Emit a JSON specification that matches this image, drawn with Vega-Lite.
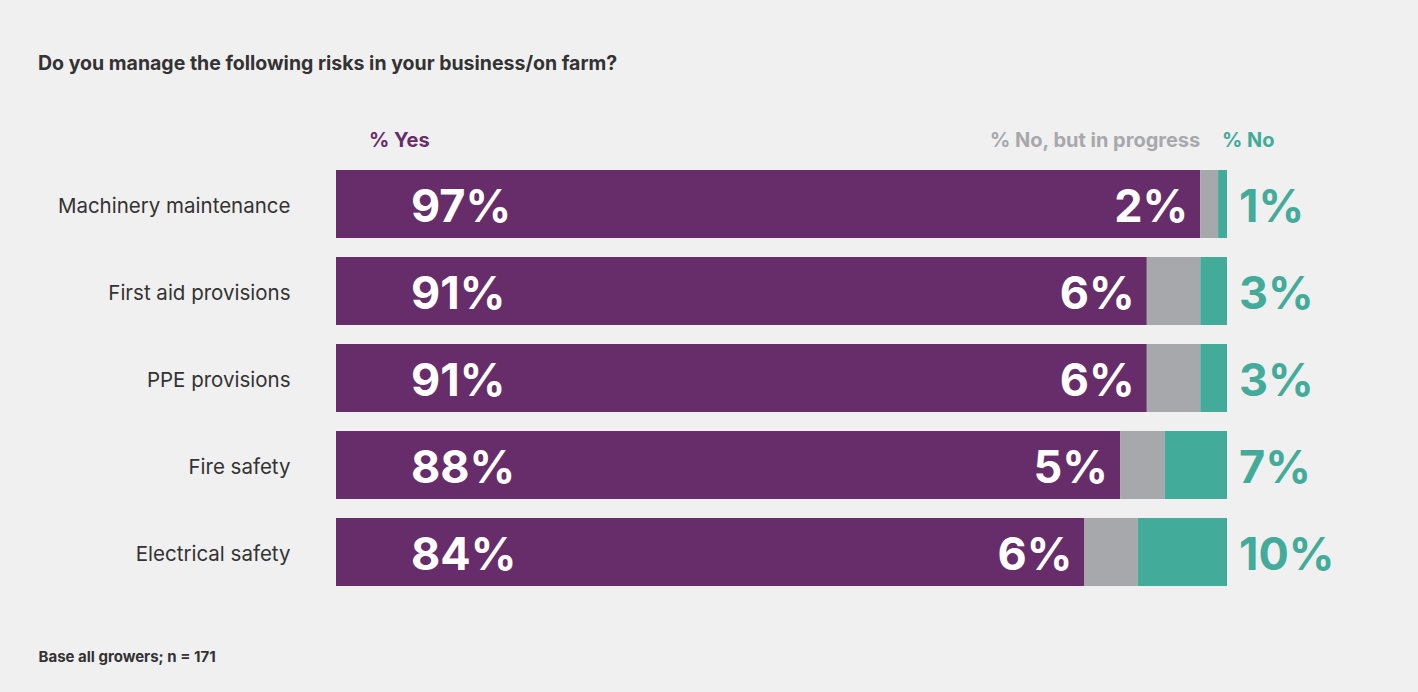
{
  "$schema": "https://vega.github.io/schema/vega-lite/v6.json",
  "width": 891,
  "height": 435,
  "autosize": {"type": "none"},
  "padding": {"left": 336, "top": 160.5, "right": 191, "bottom": 96.5},
  "background": "#f0f0f0",
  "config": {"view": {"stroke": null}, "font": "Inter"},
  "title": {
    "text": "Do you manage the following risks in your business/on farm?",
    "anchor": "start",
    "frame": "group",
    "dx": -298,
    "offset": 57,
    "fontSize": 19.5,
    "fontWeight": "bold",
    "color": "#333333",
    "font": "Inter"
  },
  "data": {
    "values": [
      {"item": "Machinery maintenance", "yes": 97, "progress": 2, "no": 1},
      {"item": "First aid provisions", "yes": 91, "progress": 6, "no": 3},
      {"item": "PPE provisions", "yes": 91, "progress": 6, "no": 3},
      {"item": "Fire safety", "yes": 88, "progress": 5, "no": 7},
      {"item": "Electrical safety", "yes": 84, "progress": 6, "no": 10}
    ]
  },
  "layer": [
    {
      "transform": [{"fold": ["yes", "progress", "no"], "as": ["key", "value"]}],
      "mark": {"type": "bar"},
      "encoding": {
        "y": {
          "field": "item",
          "type": "nominal",
          "sort": null,
          "scale": {"paddingInner": 0.218, "paddingOuter": 0.109},
          "axis": {
            "title": null,
            "domain": false,
            "ticks": false,
            "labelPadding": 46,
            "labelOffset": 3,
            "labelFontSize": 20.5,
            "labelColor": "#333333",
            "labelFont": "Inter",
            "labelLimit": 400
          }
        },
        "x": {
          "field": "value",
          "type": "quantitative",
          "stack": "zero",
          "scale": {"domain": [0, 100], "nice": false},
          "axis": {
            "labels": false,
            "ticks": false,
            "domain": false,
            "grid": false,
            "title": "Base all growers; n = 171",
            "titleX": -298,
            "titleY": 66,
            "titleAlign": "left",
            "titleAnchor": "start",
            "titleBaseline": "alphabetic",
            "titleFontSize": 15,
            "titleFontWeight": "bold",
            "titleColor": "#333333",
            "titleFont": "Inter"
          }
        },
        "color": {
          "field": "key",
          "type": "nominal",
          "scale": {"domain": ["yes", "progress", "no"], "range": ["#662d6a", "#a7a8ab", "#43ab9a"]},
          "legend": null
        },
        "order": {"field": "key", "sort": "descending"}
      }
    },
    {
      "transform": [{"calculate": "datum.yes + '%'", "as": "lbl"}],
      "mark": {"type": "text", "align": "left", "baseline": "alphabetic", "dx": 75, "dy": 18, "fontSize": 45, "fontWeight": "bold", "color": "#ffffff", "font": "Inter"},
      "encoding": {
        "y": {"field": "item", "type": "nominal", "sort": null},
        "x": {"datum": 0},
        "text": {"field": "lbl"}
      }
    },
    {
      "transform": [{"calculate": "datum.progress + '%'", "as": "lbl"}],
      "mark": {"type": "text", "align": "right", "baseline": "alphabetic", "dx": -12, "dy": 18, "fontSize": 45, "fontWeight": "bold", "color": "#ffffff", "font": "Inter"},
      "encoding": {
        "y": {"field": "item", "type": "nominal", "sort": null},
        "x": {"field": "yes", "type": "quantitative"},
        "text": {"field": "lbl"}
      }
    },
    {
      "transform": [{"calculate": "datum.no + '%'", "as": "lbl"}],
      "mark": {"type": "text", "align": "left", "baseline": "alphabetic", "dx": 12, "dy": 18, "fontSize": 45, "fontWeight": "bold", "color": "#43ab9a", "font": "Inter"},
      "encoding": {
        "y": {"field": "item", "type": "nominal", "sort": null},
        "x": {"datum": 100},
        "text": {"field": "lbl"}
      }
    },
    {
      "data": {"values": [{"h": "% Yes"}]},
      "mark": {"type": "text", "align": "left", "baseline": "middle", "dx": 33, "dy": -63, "fontSize": 20, "fontWeight": "bold", "color": "#662d6a", "font": "Inter"},
      "encoding": {
        "y": {"datum": "Machinery maintenance"},
        "x": {"datum": 0},
        "text": {"field": "h"}
      }
    },
    {
      "data": {"values": [{"h": "% No, but in progress"}]},
      "mark": {"type": "text", "align": "right", "baseline": "middle", "dx": 0, "dy": -63, "fontSize": 20, "fontWeight": "bold", "color": "#a7a8ab", "font": "Inter"},
      "encoding": {
        "y": {"datum": "Machinery maintenance"},
        "x": {"datum": 97},
        "text": {"field": "h"}
      }
    },
    {
      "data": {"values": [{"h": "% No"}]},
      "mark": {"type": "text", "align": "left", "baseline": "middle", "dx": -5, "dy": -63, "fontSize": 20, "fontWeight": "bold", "color": "#43ab9a", "font": "Inter"},
      "encoding": {
        "y": {"datum": "Machinery maintenance"},
        "x": {"datum": 100},
        "text": {"field": "h"}
      }
    }
  ]
}
